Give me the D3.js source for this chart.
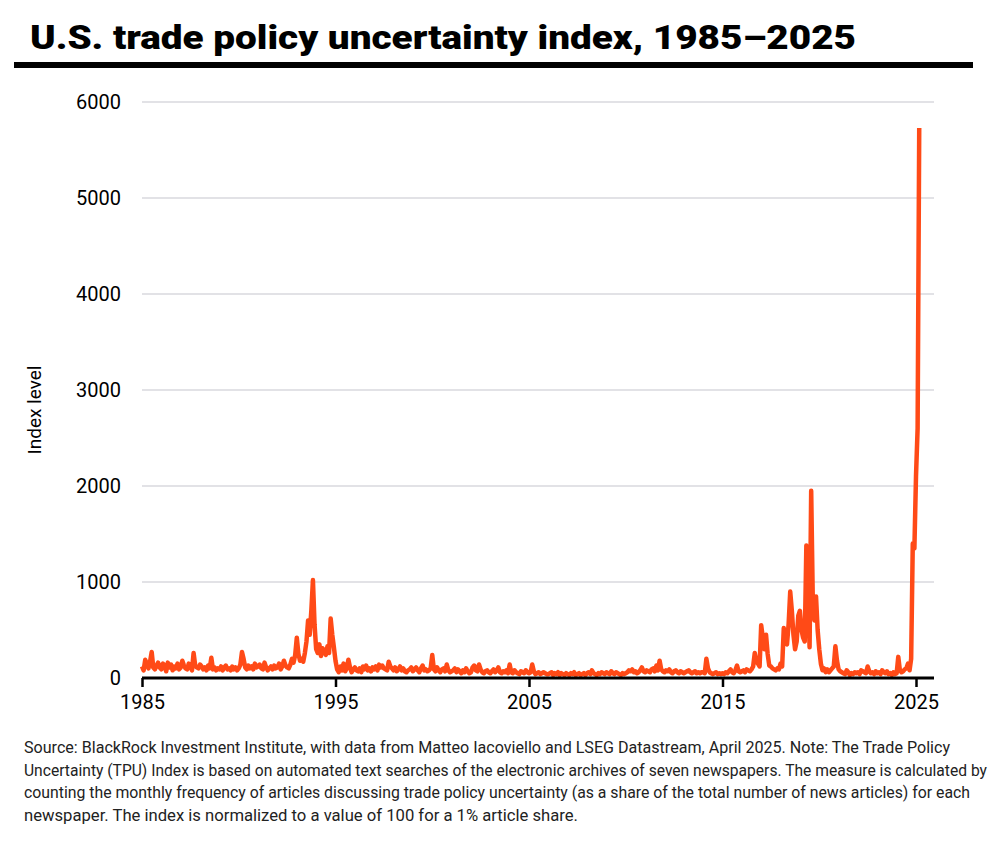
<!DOCTYPE html>
<html><head><meta charset="utf-8">
<script src="https://cdn.jsdelivr.net/npm/d3@7"></script>
<style>
body{margin:0;background:#fff;}
svg text{font-family:"Roboto",sans-serif;}
</style></head>
<body><svg width="1002" height="845"></svg>
<script>
// monthly TPU index, Jan 1985 onward
var values = [
120,80,190,150,100,170,270,110,90,130,160,110,
90,150,130,70,160,110,140,80,120,100,150,90,
110,180,130,100,90,150,120,80,260,130,110,100,
140,120,90,110,80,130,100,210,90,110,80,100,
90,120,80,110,130,90,100,80,120,90,110,80,
100,140,270,200,110,90,130,100,120,90,150,110,
120,140,100,90,160,110,80,100,120,90,130,100,
110,150,90,120,180,130,110,100,140,200,160,240,
420,250,180,200,170,260,380,600,450,700,1020,560,
300,260,350,230,310,280,240,330,260,620,450,320,
180,90,60,120,80,150,70,100,190,110,60,90,
110,80,70,100,60,120,90,130,80,100,70,110,
90,120,80,140,110,130,100,90,80,170,120,100,
80,110,70,90,120,80,100,70,60,80,90,110,
70,90,110,80,60,100,130,80,90,70,80,100,
240,90,70,110,80,60,90,100,70,140,80,60,
70,80,100,60,90,70,50,80,60,100,70,50,
60,110,130,80,70,140,90,60,50,70,80,60,
50,70,90,60,80,110,60,50,70,60,80,50,
140,60,50,80,60,50,40,70,60,50,80,60,
50,60,140,70,40,50,60,40,50,60,50,40,
40,50,60,30,50,40,60,30,50,40,30,50,
40,30,50,40,60,30,40,50,30,40,50,30,
50,60,40,80,50,40,30,50,40,60,50,40,
60,50,40,70,50,40,60,50,40,30,50,40,
50,60,80,70,90,60,70,50,60,80,110,70,
60,80,70,60,90,100,70,130,80,180,90,70,
60,80,70,90,60,50,70,80,60,50,70,60,
50,60,70,80,60,50,60,70,50,60,50,60,
60,50,200,100,60,50,40,50,60,40,50,40,
50,40,60,50,70,90,60,50,80,130,70,60,
70,80,60,90,80,70,90,120,260,180,150,120,
550,420,300,450,250,130,120,100,90,80,100,90,
150,120,520,400,350,560,900,700,450,300,380,650,
700,500,420,380,1380,900,320,1950,800,600,850,500,
300,150,80,100,60,90,60,80,100,120,330,180,
90,70,60,50,40,80,60,30,50,40,60,50,
60,40,80,70,60,50,120,70,50,60,40,70,
50,60,40,80,60,50,70,40,50,30,60,40,
50,220,80,60,70,90,100,150,80,200,1400,1350,
2100,2600,5730
];
var yTicks = [0,1000,2000,3000,4000,5000,6000];
var xTicks = [1985,1995,2005,2015,2025];
var title = "U.S. trade policy uncertainty index, 1985\u20132025";
var yLabel = "Index level";
var notes = [
"Source: BlackRock Investment Institute, with data from Matteo Iacoviello and LSEG Datastream, April 2025. Note: The Trade Policy",
"Uncertainty (TPU) Index is based on automated text searches of the electronic archives of seven newspapers. The measure is calculated by",
"counting the monthly frequency of articles discussing trade policy uncertainty (as a share of the total number of news articles) for each",
"newspaper. The index is normalized to a value of 100 for a 1% article share."
];
var noteWidths = [926, 963, 946, 554];

var data = values.map(function(v,i){ return {t:1985+i/12, v:v}; });
var svg = d3.select("svg");
var x = d3.scaleLinear().domain([1985,2025]).range([142,916]);
var y = d3.scaleLinear().domain([0,6000]).range([678,102]);

svg.append("text").attr("x",30).attr("y",49).text(title)
  .style("font-weight",900)
  .style("font-size","34px").attr("textLength",826).attr("lengthAdjust","spacingAndGlyphs");
svg.append("rect").attr("x",14).attr("y",62).attr("width",959).attr("height",6).attr("fill","#000");

svg.append("g").selectAll("line").data(yTicks.slice(1)).join("line")
  .attr("x1",142).attr("x2",934).attr("y1",d=>y(d)).attr("y2",d=>y(d))
  .attr("stroke","#d8d8de").attr("stroke-width",1.5);
svg.append("g").selectAll("text").data(yTicks).join("text")
  .attr("x",121).attr("y",d=>y(d)+7).attr("text-anchor","end")
  .style("font-size","20px").text(d=>d);

svg.append("text").attr("transform","translate(41,410) rotate(-90)")
  .attr("text-anchor","middle").style("font-size","19px").text(yLabel);

var line = d3.line().x(d=>x(d.t)).y(d=>y(d.v));
svg.append("path").datum(data).attr("d",line).attr("fill","none")
  .attr("stroke","#ff4a17").attr("stroke-width",4.5).attr("stroke-linejoin","round");

var xa = svg.append("g").attr("transform","translate(0,678)")
  .call(d3.axisBottom(x).tickValues(xTicks).tickFormat(d3.format("d")).tickSize(9).tickPadding(8));
xa.select(".domain").remove();
xa.insert("line",":first-child").attr("x1",142).attr("x2",934).attr("stroke","#000").attr("stroke-width",3);
xa.selectAll(".tick line").attr("stroke","#000").attr("stroke-width",2.5);
xa.selectAll(".tick text").style("font-size","20px").style("font-family","Roboto,sans-serif").attr("fill","#000");

svg.append("g").selectAll("text").data(notes).join("text")
  .attr("x",24).attr("y",(d,i)=>753+i*22.5).style("font-size","16px").attr("fill","#222")
  .attr("textLength",(d,i)=>noteWidths[i]).attr("lengthAdjust","spacingAndGlyphs").text(d=>d);
</script></body></html>
